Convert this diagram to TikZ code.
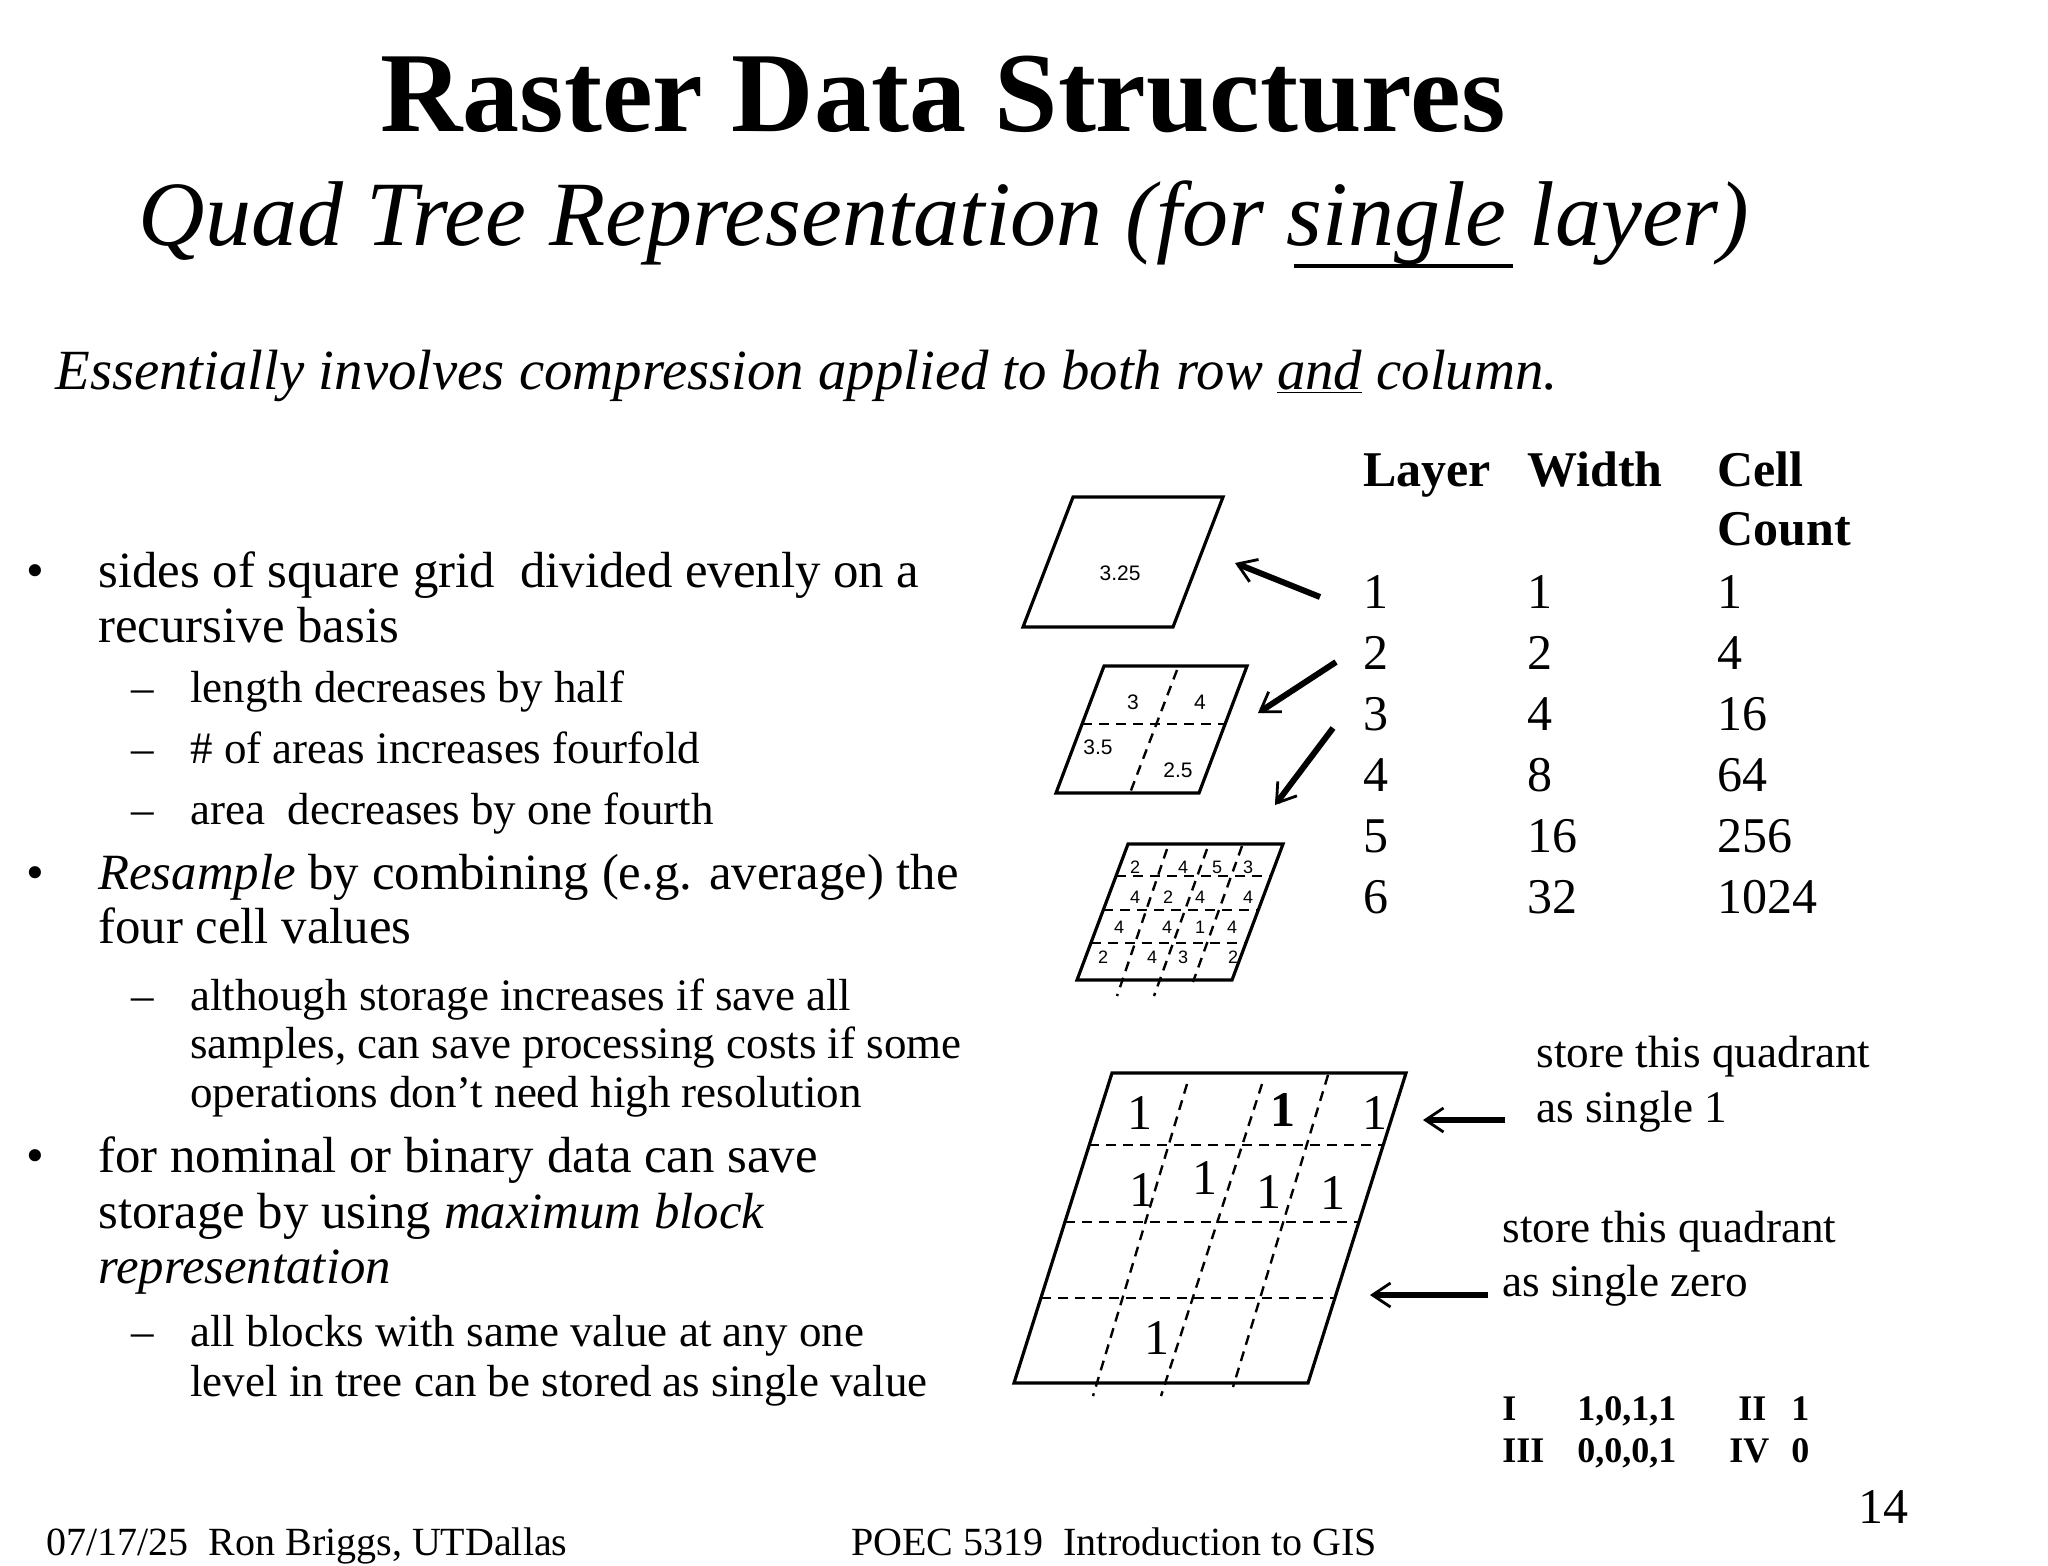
\documentclass[tikz,border=0pt]{standalone}
\usepackage{fontspec}
\setmainfont{Liberation Serif}
\newfontfamily\hv{Liberation Sans}
\usetikzlibrary{calc,arrows.meta}
\begin{document}
\begin{tikzpicture}[x=0.5pt,y=-0.5pt,
  par/.style={line width=1.6pt,line join=miter},
  dsh/.style={line width=1.2pt,dash pattern=on 5pt off 3.5pt},
  arr/.style={line width=3pt,-{Straight Barb[length=9pt,width=12pt,line width=1.4pt]}},
  tx/.style={anchor=base west,inner sep=0pt},
  sml/.style={font=\hv\fontsize{10.5}{12}\selectfont,inner sep=0pt},
  tiny/.style={font=\hv\fontsize{9}{10}\selectfont,inner sep=0pt},
  one/.style={font=\fontsize{25}{28}\selectfont,inner sep=0pt},
  bod/.style={tx,font=\fontsize{25.4}{28}\selectfont},
  sub/.style={tx,font=\fontsize{22.5}{25}\selectfont},
  tab/.style={tx,font=\fontsize{25}{30}\selectfont},
  rt/.style={tx,font=\fontsize{22.6}{25}\selectfont},
  qd/.style={tx,font=\bfseries\fontsize{18}{21}\selectfont}]
\useasboundingbox (0,0) rectangle (2048,1565);
% titles
\node[anchor=base,inner sep=0pt,font=\bfseries\fontsize{57}{64}\selectfont] (title) at (943,131) {Raster Data Structures};
\node[anchor=base,inner sep=0pt,font=\itshape\fontsize{46}{54}\selectfont] (subt) at (944,245) {Quad Tree Representation (for single layer)};
\coordinate (ul1) at (1294,266); \coordinate (ul2) at (1513,266);
\draw[line width=2pt] (ul1) -- (ul2);
\node[tx,font=\itshape\fontsize{28.4}{32}\selectfont] (ess) at (55,389) {Essentially involves compression applied to both row \underline{and} column.};
% bullets
\node[bod] (b1) at (26,587) {•};
\node[bod] (t1a) at (98,587) {sides of square grid\ \ divided evenly on a};
\node[bod] (t1b) at (98,642) {recursive basis};
\node[sub] (d1) at (131,702) {–}; \node[sub] (s1) at (190,702) {length decreases by half};
\node[sub] (d2) at (131,763) {–}; \node[sub] (s2) at (190,763) {\# of areas increases fourfold};
\node[sub] (d3) at (131,824) {–}; \node[sub] (s3) at (190,824) {area\ \ decreases by one fourth};
\node[bod] (b2) at (26,889) {•};
\node[bod] (t2a) at (98,889) {\textit{Resample} by combining (e.g. average) the};
\node[bod] (t2b) at (98,943) {four cell values};
\node[sub] (d4) at (131,1010) {–}; \node[sub] (s4) at (190,1010) {although storage increases if save all};
\node[sub] (s5) at (190,1058) {samples, can save processing costs if some};
\node[sub] (s6) at (190,1107) {operations don’t need high resolution};
\node[bod] (b3) at (26,1172) {•};
\node[bod] (t3a) at (98,1172) {for nominal or binary data can save};
\node[bod] (t3b) at (98,1228) {storage by using \textit{maximum block}};
\node[bod] (t3c) at (98,1283) {\textit{representation}};
\node[sub] (d5) at (131,1346) {–}; \node[sub] (s7) at (190,1346) {all blocks with same value at any one};
\node[sub] (s8) at (190,1396) {level in tree can be stored as single value};
% footer
\node[tx,font=\fontsize{20}{22}\selectfont] (f1) at (46,1555) {07/17/25\ \ Ron Briggs, UTDallas};
\node[tx,font=\fontsize{20}{22}\selectfont] (f2) at (851,1555) {POEC 5319\ \ Introduction to GIS};
\node[tx,font=\fontsize{25}{28}\selectfont] (pg) at (1858,1523) {14};
% table
\node[tab,font=\bfseries\fontsize{25}{30}\selectfont] (hL) at (1363,486) {Layer};
\node[tab,font=\bfseries\fontsize{25}{30}\selectfont] (hW) at (1527,486) {Width};
\node[tab,font=\bfseries\fontsize{25}{30}\selectfont] (hC) at (1717,486) {Cell};
\node[tab,font=\bfseries\fontsize{25}{30}\selectfont] (hC2) at (1717,545) {Count};
\foreach \a/\b/\c [count=\i] in {1/1/1,2/2/4,3/4/16,4/8/64,5/16/256,6/32/1024}{
  \node[tab] (L\i) at (1363,547+61*\i) {\a};
  \node[tab] (W\i) at (1527,547+61*\i) {\b};
  \node[tab] (C\i) at (1717,547+61*\i) {\c};
}
% parallelogram 1
\coordinate (p1a) at (1073,497); \coordinate (p1b) at (1223,497);
\coordinate (p1c) at (1173,627); \coordinate (p1d) at (1023,627);
\draw[par] (p1a)--(p1b)--(p1c)--(p1d)--cycle;
\node[sml] (v1) at (1120,573) {3.25};
% parallelogram 2
\coordinate (p2a) at (1104,666); \coordinate (p2b) at (1247,666);
\coordinate (p2c) at (1199,793); \coordinate (p2d) at (1056,793);
\draw[dsh] ($(p2a)!0.457!(p2d)$) -- ($(p2b)!0.457!(p2c)$);
\coordinate (v2t) at (1177,670); \coordinate (v2b) at (1130,793);
\draw[dsh] (v2t)--(v2b);
\draw[par] (p2a)--(p2b)--(p2c)--(p2d)--cycle;
\node[sml] (q1) at (1133,702) {3}; \node[sml] (q2) at (1200,702) {4};
\node[sml] (q3) at (1098,747) {3.5}; \node[sml] (q4) at (1178,770) {2.5};
% parallelogram 3
\coordinate (p3a) at (1128,844); \coordinate (p3b) at (1283,844);
\coordinate (p3c) at (1232,980); \coordinate (p3d) at (1077,980);
\foreach \t in {0.235,0.485,0.728}
  \draw[dsh] ($(p3a)!\t!(p3d)$) -- ($(p3b)!\t!(p3c)$);
\foreach \xa/\ya/\xb/\yb [count=\k] in {1167/849/1117/996,1207/849/1154/996,1242/846/1193/982}{
  \coordinate (g3t\k) at (\xa,\ya); \coordinate (g3b\k) at (\xb,\yb);
  \draw[dsh] (g3t\k)--(g3b\k);}
\draw[par] (p3a)--(p3b)--(p3c)--(p3d)--cycle;
\foreach \v/\px/\py [count=\k] in {2/1135/867,4/1183/867,5/1217/867,3/1248/867,
  4/1135/897,2/1168/897,4/1200/897,4/1248/897,
  4/1119/927,4/1167/927,1/1200/927,4/1232/927,
  2/1103/957,4/1152/957,3/1183/957,2/1233/957}
  \node[tiny] (c\k) at (\px,\py) {\v};
% parallelogram 4
\coordinate (p4a) at (1112,1073); \coordinate (p4b) at (1406,1073);
\coordinate (p4c) at (1308,1383); \coordinate (p4d) at (1014,1383);
\foreach \t in {0.232,0.481,0.726}
  \draw[dsh] ($(p4a)!\t!(p4d)$) -- ($(p4b)!\t!(p4c)$);
\foreach \xa/\ya/\xb/\yb [count=\k] in {1187/1084/1093/1396,1262/1084/1161/1396,1328/1075/1233/1387}{
  \coordinate (g4t\k) at (\xa,\ya); \coordinate (g4b\k) at (\xb,\yb);
  \draw[dsh] (g4t\k)--(g4b\k);}
\draw[par] (p4a)--(p4b)--(p4c)--(p4d)--cycle;
\foreach \px/\py [count=\k] in {1140/1113,1375/1113,1142/1190,1205/1178,1269/1192,1333/1193,1157/1338}
  \node[one] (o\k) at (\px,\py) {1};
\node[one,font=\bfseries\fontsize{25}{28}\selectfont] (ob) at (1283,1110) {1};
% arrows
\coordinate (a1s) at (1320,597); \coordinate (a1e) at (1235,563);
\coordinate (a2s) at (1336,662); \coordinate (a2e) at (1258,713);
\coordinate (a3s) at (1333,728); \coordinate (a3e) at (1275,805);
\draw[arr] (a1s)--(a1e); \draw[arr] (a2s)--(a2e); \draw[arr] (a3s)--(a3e);
% right texts
\node[rt] (r1) at (1536,1067) {store this quadrant};
\node[rt] (r2) at (1536,1122) {as single 1};
\node[rt] (r3) at (1502,1242) {store this quadrant};
\node[rt] (r4) at (1502,1296) {as single zero};
\coordinate (a4s) at (1505,1120); \coordinate (a4e) at (1423,1120);
\coordinate (a5s) at (1488,1295); \coordinate (a5e) at (1370,1295);
\draw[arr] (a4s)--(a4e); \draw[arr] (a5s)--(a5e);
\node[qd] (k1) at (1502,1420) {I}; \node[qd] (k2) at (1577,1420) {1,0,1,1};
\node[qd] (k3) at (1738,1420) {II}; \node[qd] (k4) at (1791,1420) {1};
\node[qd] (k5) at (1502,1462) {III}; \node[qd] (k6) at (1577,1462) {0,0,0,1};
\node[qd] (k7) at (1729,1462) {IV}; \node[qd] (k8) at (1791,1462) {0};
\end{tikzpicture}
\end{document}
